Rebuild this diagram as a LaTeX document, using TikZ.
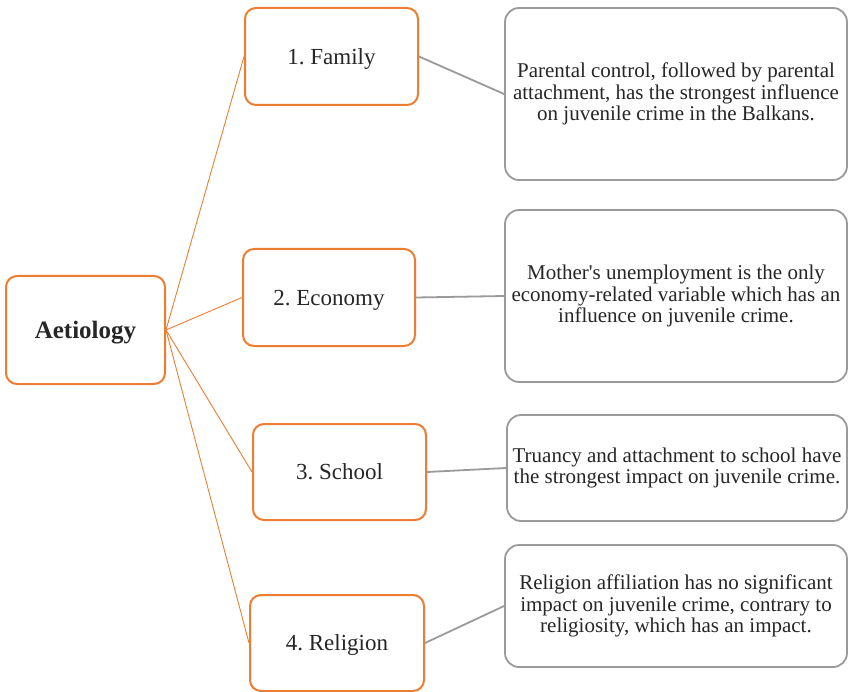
\documentclass[tikz,border=0pt]{standalone}
\usepackage{fontspec}
\setmainfont{Liberation Serif}
\definecolor{orng}{HTML}{ED7D31}
\definecolor{gry}{HTML}{9A9A9A}
\definecolor{txt}{HTML}{262626}
\begin{document}
\frenchspacing
\begin{tikzpicture}[x=1pt,y=-1pt,
  obox/.style={draw=orng, line width=2pt, rounded corners=11pt, fill=white, text=txt, align=center, text depth=0pt, font=\fontsize{23}{26}\selectfont},
  gbox/.style={draw=gry, line width=1.8pt, rounded corners=14pt, fill=white, text=txt, align=center, inner sep=2pt, font=\fontsize{21}{21.5}\selectfont},
  oline/.style={draw=orng, line width=0.9pt},
  gline/.style={draw=gry, line width=1.8pt}]
\useasboundingbox (0,0) rectangle (850,692);
\node[obox, minimum width=159pt, minimum height=108pt, font=\fontsize{25}{28}\selectfont\bfseries] (aet) at (85.5,330) {Aetiology};
\node[obox, minimum width=173pt, minimum height=97pt] (fam) at (331.5,56.5) {1. Family};
\node[obox, minimum width=172pt, minimum height=97pt] (eco) at (329,297.5) {2. Economy};
\node[obox, minimum width=173pt, minimum height=96pt] (sch) at (339.5,472) {3. School};
\node[obox, minimum width=174pt, minimum height=96pt] (rel) at (337,643) {4. Religion};
\node[gbox, minimum width=342pt, minimum height=172pt] (r1) at (676,94) {Parental control, followed by parental\\attachment, has the strongest influence\\on juvenile crime in the Balkans.};
\node[gbox, minimum width=342pt, minimum height=172pt] (r2) at (676,296) {Mother\textquotesingle s unemployment is the only\\economy-related variable which has an\\influence on juvenile crime.};
\node[gbox, minimum width=340pt, minimum height=106pt] (r3) at (677,468) {Truancy and attachment to school have\\the strongest impact on juvenile crime.};
\node[gbox, minimum width=342pt, minimum height=122pt] (r4) at (676,606) {Religion affiliation has no significant\\impact on juvenile crime, contrary to\\religiosity, which has an impact.};
\draw[oline] (aet.east) -- (fam.west);
\draw[oline] (aet.east) -- (eco.west);
\draw[oline] (aet.east) -- (sch.west);
\draw[oline] (aet.east) -- (rel.west);
\draw[gline] (fam.east) -- (r1.west);
\draw[gline] (eco.east) -- (r2.west);
\draw[gline] (sch.east) -- (r3.west);
\draw[gline] (rel.east) -- (r4.west);
\end{tikzpicture}
\end{document}
